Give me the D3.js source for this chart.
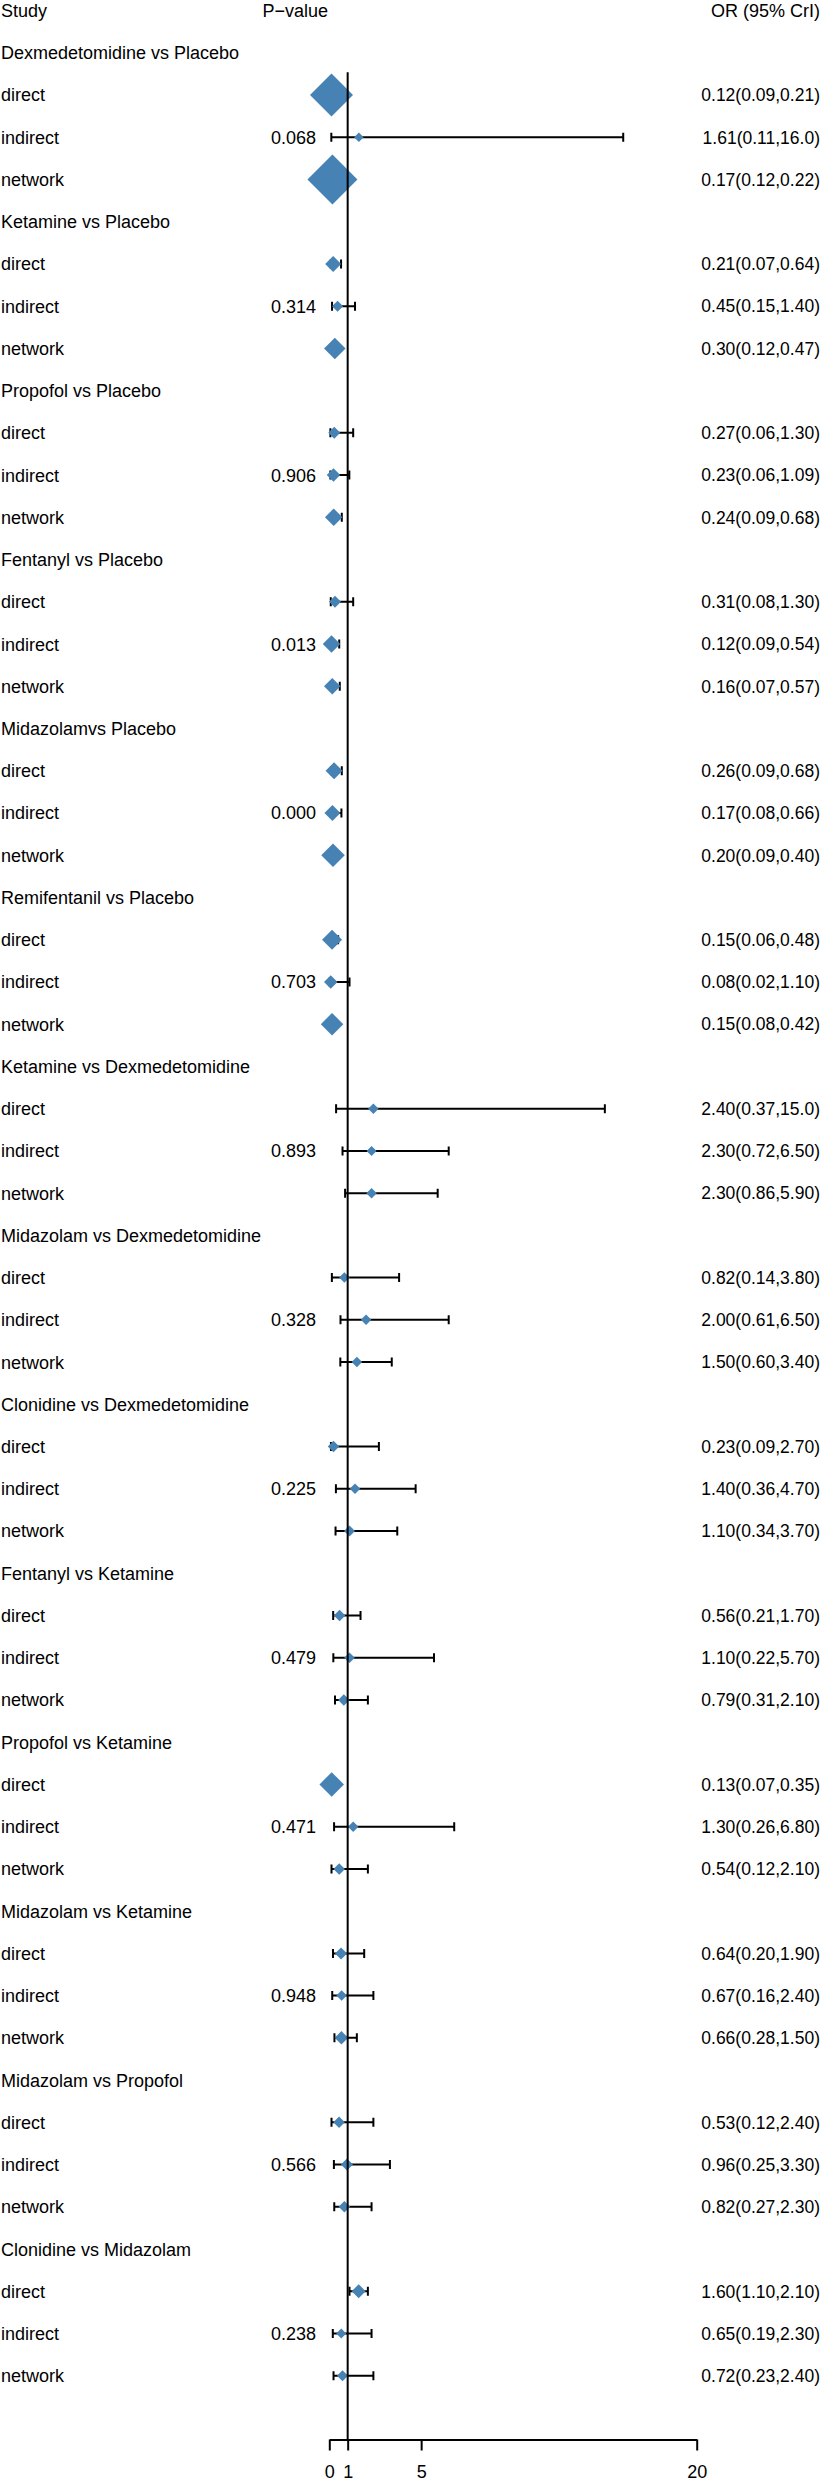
<!DOCTYPE html>
<html>
<head>
<meta charset="utf-8">
<script src="https://cdn.jsdelivr.net/npm/d3@7/dist/d3.min.js"></script>
<style>
  html, body { margin: 0; padding: 0; background: #fff; }
  svg { display: block; }
  text { font-family: "Liberation Sans", Arial, Helvetica, sans-serif; fill: #000; }
</style>
</head>
<body>
<svg id="chart" width="822" height="2481"></svg>
<script>
// ---------------- data ----------------
const rowTypes = ["direct", "indirect", "network"];
const groups = [
  "Dexmedetomidine vs Placebo",
  "Ketamine vs Placebo",
  "Propofol vs Placebo",
  "Fentanyl vs Placebo",
  "Midazolamvs Placebo",
  "Remifentanil vs Placebo",
  "Ketamine vs Dexmedetomidine",
  "Midazolam vs Dexmedetomidine",
  "Clonidine vs Dexmedetomidine",
  "Fentanyl vs Ketamine",
  "Propofol vs Ketamine",
  "Midazolam vs Ketamine",
  "Midazolam vs Propofol",
  "Clonidine vs Midazolam"
];
const pValues = [0.068, 0.314, 0.906, 0.013, 0.000, 0.703, 0.893, 0.328, 0.225, 0.479, 0.471, 0.948, 0.566, 0.238];
// [direct, indirect, network]
const orMean = [
  [0.12, 1.61, 0.17], [0.21, 0.45, 0.30], [0.27, 0.23, 0.24], [0.31, 0.12, 0.16],
  [0.26, 0.17, 0.20], [0.15, 0.08, 0.15], [2.40, 2.30, 2.30], [0.82, 2.00, 1.50],
  [0.23, 1.40, 1.10], [0.56, 1.10, 0.79], [0.13, 1.30, 0.54], [0.64, 0.67, 0.66],
  [0.53, 0.96, 0.82], [1.60, 0.65, 0.72]
];
const orLower = [
  [0.09, 0.11, 0.12], [0.07, 0.15, 0.12], [0.06, 0.06, 0.09], [0.08, 0.09, 0.07],
  [0.09, 0.08, 0.09], [0.06, 0.02, 0.08], [0.37, 0.72, 0.86], [0.14, 0.61, 0.60],
  [0.09, 0.36, 0.34], [0.21, 0.22, 0.31], [0.07, 0.26, 0.12], [0.20, 0.16, 0.28],
  [0.12, 0.25, 0.27], [1.10, 0.19, 0.23]
];
const orUpper = [
  [0.21, 16.0, 0.22], [0.64, 1.40, 0.47], [1.30, 1.09, 0.68], [1.30, 0.54, 0.57],
  [0.68, 0.66, 0.40], [0.48, 1.10, 0.42], [15.0, 6.50, 5.90], [3.80, 6.50, 3.40],
  [2.70, 4.70, 3.70], [1.70, 5.70, 2.10], [0.35, 6.80, 2.10], [1.90, 2.40, 1.50],
  [2.40, 3.30, 2.30], [2.10, 2.30, 2.40]
];
// relative precision weight (drives diamond size)
const weights = [
  [0.86, 0.19, 1.00], [0.32, 0.22, 0.43], [0.24, 0.27, 0.35], [0.24, 0.35, 0.33],
  [0.34, 0.32, 0.47], [0.40, 0.27, 0.45], [0.21, 0.20, 0.21], [0.21, 0.21, 0.21],
  [0.23, 0.21, 0.22], [0.23, 0.21, 0.23], [0.49, 0.21, 0.23], [0.24, 0.21, 0.27],
  [0.23, 0.24, 0.23], [0.28, 0.20, 0.22]
];
const xTicks = [0, 1, 5, 20];
const headers = { study: "Study", p: "P\u2212value", or: "OR (95% CrI)" };

// ---------------- build rows ----------------
const rows = [];
groups.forEach((g, gi) => {
  rows.push({ kind: "group", label: g, gi });
  rowTypes.forEach((t, k) => {
    rows.push({
      kind: "est", label: t, gi, k,
      mean: orMean[gi][k], lo: orLower[gi][k], hi: orUpper[gi][k],
      w: weights[gi][k],
      p: t === "indirect" ? pValues[gi] : null
    });
  });
});
rows.forEach((r, i) => r.idx = i);

// ---------------- scales ----------------
const svg = d3.select("#chart");
const x = d3.scaleLinear().domain([0, 20]).range([329.3, 696.7]);
const y = d3.scaleLinear().domain([-1, rows.length - 1]).range([10.5, 52 + 42.25 * (rows.length - 1)]);
const size = d3.scaleLinear().domain([0, 1]).range([0, 25]);
const axisY = 2439.5;

const fmt = v => v >= 10 ? v.toFixed(1) : v.toFixed(2);

// ---------------- headers ----------------
svg.append("text").attr("x", 1).attr("y", y(-1)).attr("dy", "0.36em")
  .attr("font-size", 18).text(headers.study);
svg.append("text").attr("x", 328).attr("y", y(-1)).attr("dy", "0.36em")
  .attr("text-anchor", "end").attr("font-size", 18).text(headers.p);
svg.append("text").attr("x", 820).attr("y", y(-1)).attr("dy", "0.36em")
  .attr("text-anchor", "end").attr("font-size", 18).text(headers.or);

// ---------------- left labels ----------------
svg.append("g").selectAll("text").data(rows).join("text")
  .attr("x", 1).attr("y", d => y(d.idx)).attr("dy", "0.36em")
  .attr("font-size", 18).text(d => d.label);

// p-values
const est = rows.filter(d => d.kind === "est");
svg.append("g").selectAll("text").data(est.filter(d => d.p !== null)).join("text")
  .attr("x", 316).attr("y", d => y(d.idx)).attr("dy", "0.36em")
  .attr("text-anchor", "end").attr("font-size", 18).text(d => d.p.toFixed(3));

// right OR text
svg.append("g").selectAll("text").data(est).join("text")
  .attr("x", 820).attr("y", d => y(d.idx)).attr("dy", "0.36em")
  .attr("text-anchor", "end").attr("font-size", 17.5)
  .text(d => `${fmt(d.mean)}(${fmt(d.lo)},${fmt(d.hi)})`);

// ---------------- CI whiskers ----------------
const ci = svg.append("g").attr("stroke", "#000").attr("stroke-width", 2).attr("fill", "none");
const capH = 4.5;
ci.selectAll("path").data(est).join("path")
  .attr("d", d => {
    const yy = y(d.idx), a = x(d.lo), b = x(d.hi);
    return `M${a},${yy}H${b}M${a},${yy - capH}V${yy + capH}M${b},${yy - capH}V${yy + capH}`;
  });

// ---------------- diamonds ----------------
svg.append("g").selectAll("path").data(est).join("path")
  .attr("fill", "#4682B4")
  .attr("d", d => {
    const cx = x(d.mean), cy = y(d.idx), s = size(d.w);
    return `M${cx - s},${cy}L${cx},${cy - s}L${cx + s},${cy}L${cx},${cy + s}Z`;
  });

// ---------------- reference line at OR = 1 ----------------
svg.append("line")
  .attr("x1", x(1)).attr("x2", x(1))
  .attr("y1", y(0) + 19.5).attr("y2", axisY)
  .attr("stroke", "#000").attr("stroke-width", 2);

// ---------------- axis ----------------
const axis = d3.axisBottom(x).tickValues(xTicks).tickSize(11).tickSizeOuter(0).tickPadding(15)
  .tickFormat(d3.format("d"));
const ax = svg.append("g").attr("transform", `translate(0,${axisY})`).call(axis);
ax.select(".domain").attr("stroke", "#000").attr("stroke-width", 2);
ax.selectAll(".tick line").attr("stroke", "#000").attr("stroke-width", 2);
ax.selectAll(".tick text").attr("font-size", 18).attr("fill", "#000")
  .attr("font-family", "'Liberation Sans', Arial, Helvetica, sans-serif");
</script>
</body>
</html>
